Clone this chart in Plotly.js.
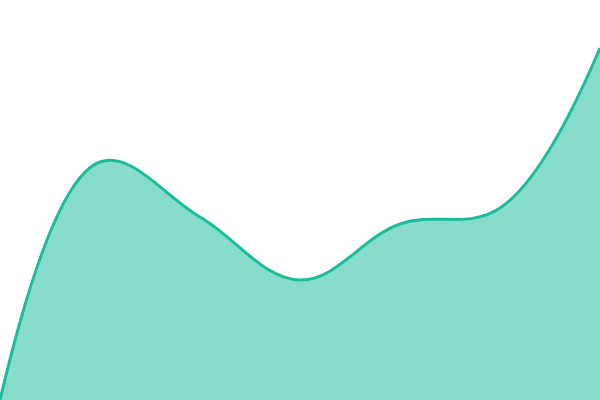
<!DOCTYPE html>
<html>
<head>
<meta charset="utf-8">
<script src="https://cdn.plot.ly/plotly-3.0.1.min.js"></script>
<style>
  html, body { margin: 0; padding: 0; background: #fff; }
  #chart { width: 600px; height: 400px; }
</style>
</head>
<body>
<div id="chart"></div>
<script>
// values
let steps = [0, 1, 2, 3, 4, 5, 6];
let values = [0, 238, 183, 120, 176, 192, 352];

let trace = {
    x: steps,
    y: values,
    type: 'scatter',
    mode: 'lines',
    fill: 'tozeroy',
    fillcolor: 'rgba(26,188,156,0.52)',
    line: {
        color: '#1abc9c',
        width: 3,
        shape: 'spline',
        smoothing: 1.1
    },
    hoverinfo: 'none'
};

let layout = {
    width: 600,
    height: 400,
    margin: {l: 0, r: 0, t: 0, b: 0},
    paper_bgcolor: '#fff',
    plot_bgcolor: '#fff',
    showlegend: false,
    xaxis: {range: [0, 6], visible: false, fixedrange: true},
    yaxis: {range: [0, 400], visible: false, fixedrange: true}
};

Plotly.newPlot('chart', [trace], layout, {displayModeBar: false, staticPlot: true});
</script>
</body>
</html>
